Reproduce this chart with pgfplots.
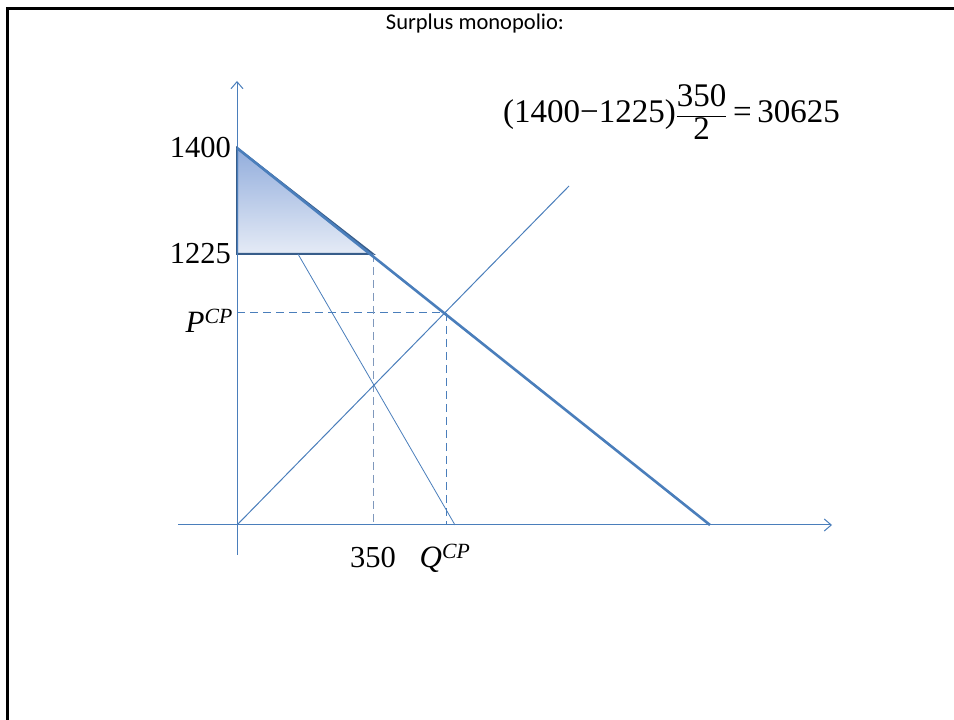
\documentclass[border=0pt]{standalone}
\usepackage{fontspec}
\setmainfont{Liberation Serif}
\newfontfamily\cali{Carlito}
\usepackage{pgfplots}
\pgfplotsset{compat=1.18}
\usetikzlibrary{arrows.meta}
\definecolor{ln}{HTML}{4A7EBB}
\definecolor{tri}{HTML}{385D8A}
\definecolor{gtop}{HTML}{92ADDC}
\definecolor{gbot}{HTML}{E5EBF6}
\definecolor{dsh}{HTML}{7F98BC}
\begin{document}
\begin{tikzpicture}
\begin{axis}[
  name=main,
  scale only axis, width=954pt, height=720pt,
  xmin=-237, xmax=717, ymin=-195, ymax=525,
  axis lines=none, clip=false,
]
% frame
\addplot[black, line width=3pt] coordinates {(-230,-195) (-230,516) (717,516)};
% shaded triangle
\addplot[draw=tri, line width=2pt, top color=gtop, bottom color=gbot] coordinates {(0,377) (0,271) (136,271)} -- cycle;
% axes
\addplot[ln, line width=1pt, -{Straight Barb[length=7pt,width=12pt]}] coordinates {(0,-30) (0,444)};
\addplot[ln, line width=1pt, -{Straight Barb[length=7pt,width=12pt]}] coordinates {(-59,0) (595,0)};
% dashed guides
\addplot[ln, line width=1pt, dash pattern=on 8pt off 5pt] coordinates {(0,212) (209,212)};
\addplot[ln, line width=1pt, dash pattern=on 8pt off 5pt] coordinates {(209,212) (209,0)};
\addplot[dsh, line width=1pt, dash pattern=on 8pt off 5pt] coordinates {(136,271) (136,0)};
% MR
\addplot[ln, line width=0.8pt] coordinates {(61,271) (218,0)};
% MC
\addplot[ln, line width=1pt] coordinates {(0,0) (332,339)};
% demand
\addplot[ln, line width=2.6pt] coordinates {(0,377) (473,0)};
% labels
\node[anchor=east, inner sep=0pt, font=\fontsize{30.5}{36}\selectfont] at (axis cs:-6,377) {1400};
\node[anchor=east, inner sep=0pt, font=\fontsize{30.5}{36}\selectfont] at (axis cs:-6,271) {1225};
\node[anchor=base east, inner sep=0pt, font=\fontsize{31}{36}\selectfont] at (axis cs:-4,192) {\itshape P\textsuperscript{CP}};
\node[anchor=base, inner sep=0pt, font=\fontsize{30.5}{36}\selectfont] at (axis cs:136,-43) {350};
\node[anchor=base, inner sep=0pt, font=\fontsize{31}{36}\selectfont] at (axis cs:208,-43) {\itshape Q\textsuperscript{CP}};
\node[anchor=west, inner sep=0pt, font=\fontsize{33}{40}\selectfont] at (axis cs:266,413) {(1400−1225)$\displaystyle\frac{\mbox{350}}{\mbox{2}}$\,=\,30625};
\node[anchor=center, inner sep=0pt, font=\cali\fontsize{22.5}{27}\selectfont] at (axis cs:238,501) {Surplus monopolio:};
\end{axis}
\pgfresetboundingbox
\useasboundingbox (main.south west) rectangle (main.north east);
\end{tikzpicture}
\end{document}
